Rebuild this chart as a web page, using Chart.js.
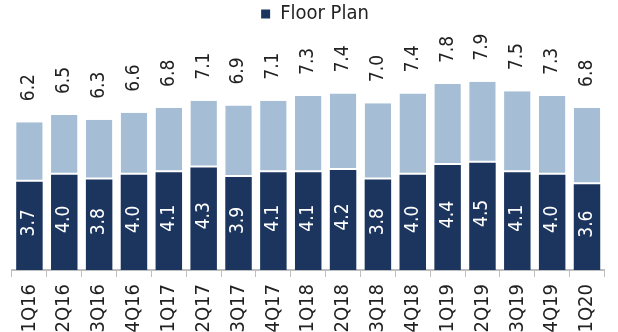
<!DOCTYPE html>
<html>
<head>
<meta charset="utf-8">
<script src="https://cdn.jsdelivr.net/npm/chart.js@4/dist/chart.umd.min.js"></script>
<style>
  html, body { margin: 0; padding: 0; background: #fff; }
  #wrap { width: 618px; height: 332px; position: relative; }
</style>
</head>
<body>
<div id="wrap"><canvas id="chart"></canvas></div>
<script>
  var quarters = ['1Q16', '2Q16', '3Q16', '4Q16', '1Q17', '2Q17', '3Q17', '4Q17', '1Q18',
    '2Q18', '3Q18', '4Q18', '1Q19', '2Q19', '3Q19', '4Q19', '1Q20'];
  var floorPlan = [3.7, 4.0, 3.8, 4.0, 4.1, 4.3, 3.9, 4.1, 4.1, 4.2, 3.8, 4.0, 4.4, 4.5, 4.1, 4.0, 3.6];
  var totals = [6.2, 6.5, 6.3, 6.6, 6.8, 7.1, 6.9, 7.1, 7.3, 7.4, 7.0, 7.4, 7.8, 7.9, 7.5, 7.3, 6.8];

  var DARK = '#1c355e';
  var LIGHT = '#a5bed6';
  var FONT = '"Liberation Sans Narrow", "Arial Narrow", "DejaVu Sans Condensed", sans-serif';

  var rest = totals.map(function (t, i) { return +(t - floorPlan[i]).toFixed(1); });

  var barLabels = {
    id: 'barLabels',
    afterDatasetsDraw: function (chart) {
      var ctx = chart.ctx;
      var dark = chart.getDatasetMeta(0).data;
      var light = chart.getDatasetMeta(1).data;
      ctx.save();
      ctx.font = '19px ' + FONT;
      ctx.textBaseline = 'middle';
      dark.forEach(function (bar, i) {
        ctx.save();
        ctx.translate(bar.x, (bar.y + bar.base) / 2 - 3);
        ctx.rotate(-Math.PI / 2);
        ctx.textAlign = 'center';
        ctx.fillStyle = '#ffffff';
        ctx.fillText(floorPlan[i].toFixed(1), 0, 0);
        ctx.restore();
      });
      light.forEach(function (bar, i) {
        ctx.save();
        ctx.translate(bar.x, bar.y - 21);
        ctx.rotate(-Math.PI / 2);
        ctx.textAlign = 'left';
        ctx.fillStyle = '#222222';
        ctx.fillText(totals[i].toFixed(1), 0, 0);
        ctx.restore();
      });
      ctx.restore();
    }
  };

  new Chart(document.getElementById('chart').getContext('2d'), {
    type: 'bar',
    data: {
      labels: quarters,
      datasets: [
        { label: 'Floor Plan', data: floorPlan, backgroundColor: DARK, borderWidth: 0,
          barPercentage: 0.76, categoryPercentage: 1 },
        { label: 'Other', data: rest, backgroundColor: LIGHT, borderColor: '#ffffff',
          borderWidth: { top: 0, left: 0, right: 0, bottom: 2 }, borderSkipped: false,
          barPercentage: 0.76, categoryPercentage: 1 }
      ]
    },
    options: {
      responsive: true, maintainAspectRatio: false, animation: false,
      layout: { padding: { left: 12, right: 0, top: 0, bottom: 0 } },
      plugins: {
        tooltip: { enabled: false },
        legend: {
          labels: {
            filter: function (item) { return item.datasetIndex === 0; },
            color: '#222222', font: { family: FONT, size: 20 },
            boxWidth: 9, boxHeight: 9, padding: 4
          }
        }
      },
      scales: {
        x: {
          stacked: true,
          grid: { offset: true, drawOnChartArea: false, tickLength: 7, color: '#bfbfbf' },
          border: { color: '#bfbfbf', width: 2 },
          ticks: { color: '#222222', font: { family: FONT, size: 20 }, minRotation: 90, maxRotation: 90, padding: 7 },
          afterFit: function (s) { s.height = 62; }
        },
        y: { stacked: true, display: false, min: 0, max: 9.9 }
      }
    },
    plugins: [barLabels]
  });
</script>
</body>
</html>
